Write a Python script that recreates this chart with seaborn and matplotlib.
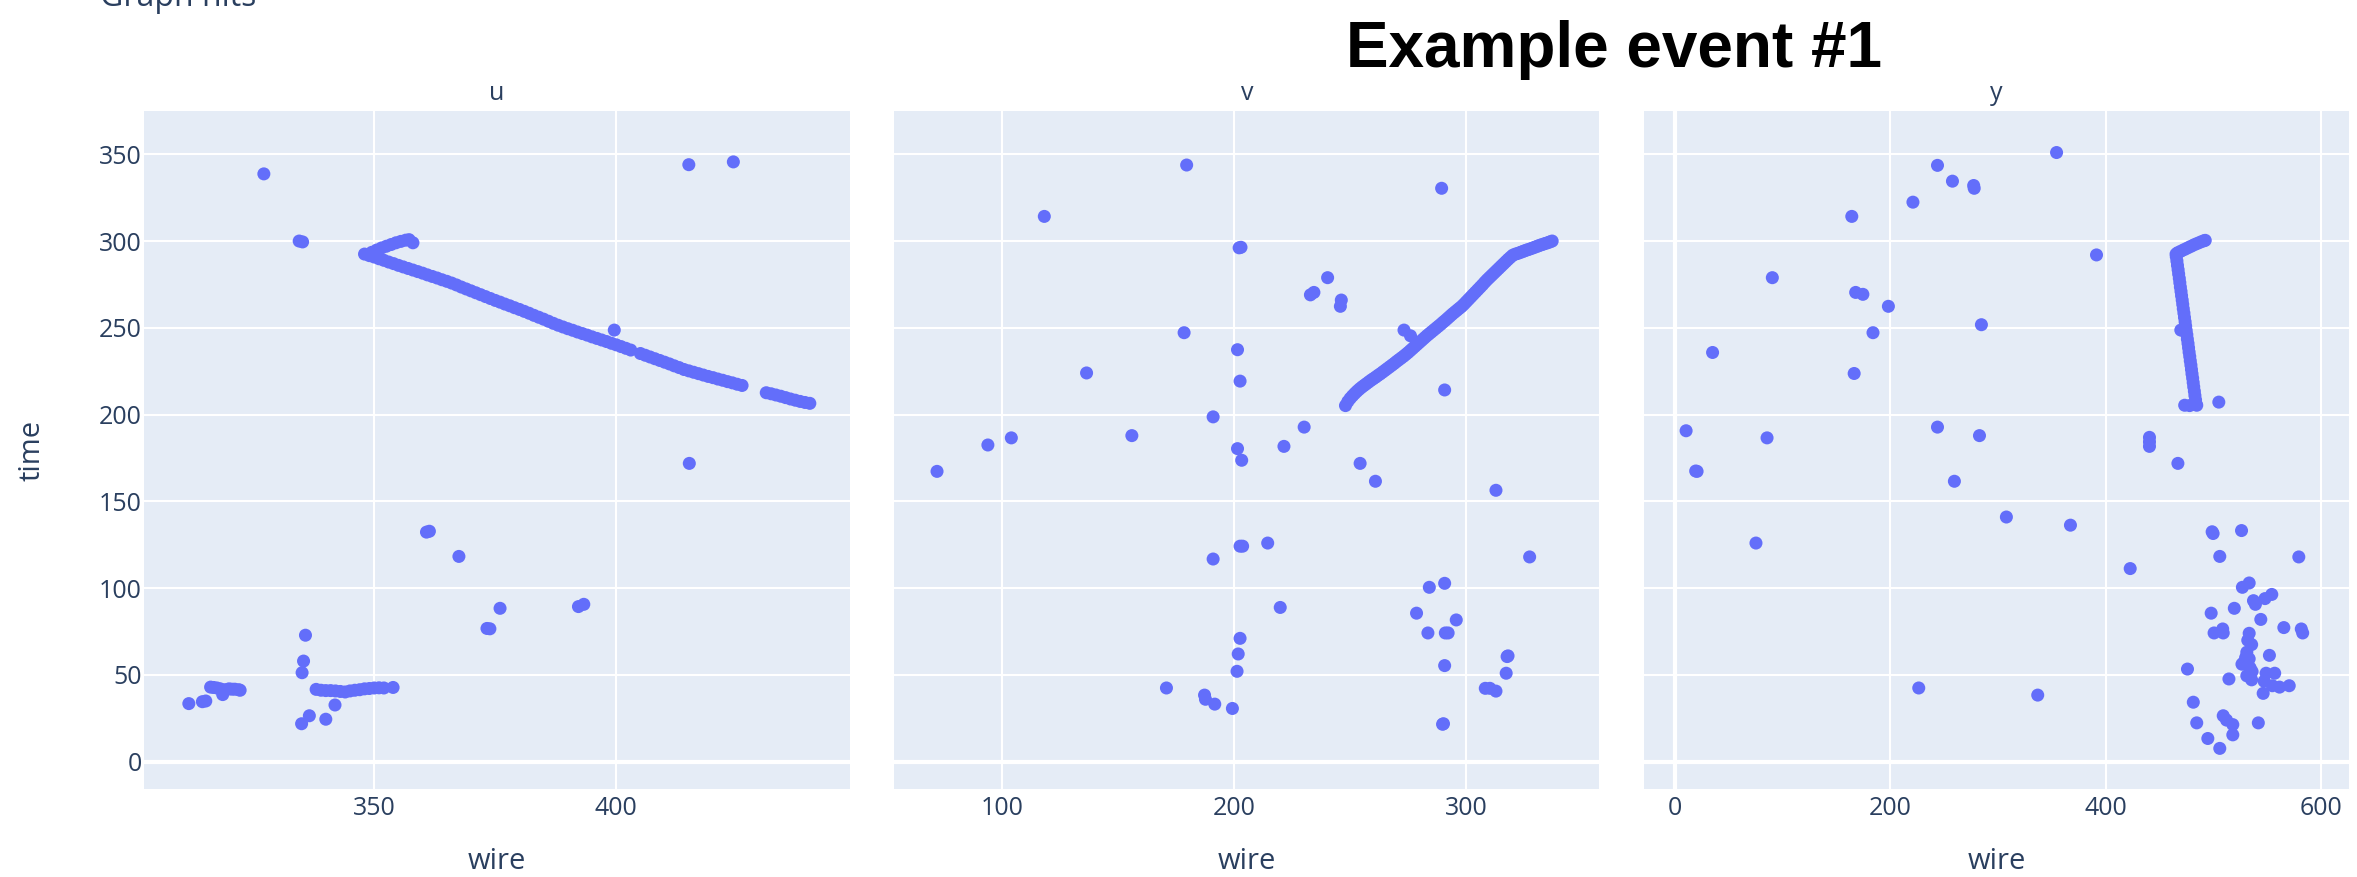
import matplotlib
matplotlib.use("Agg")
import matplotlib.pyplot as plt
import seaborn as sns
import pandas as pd

# ---------------- data ----------------
planes = ["u", "v", "y"]

# plane u: isolated hits
u_hits_wire = [327.2, 334.5, 335.2, 415.0, 424.2, 415.1, 399.6, 360.8, 361.4, 367.5,
               373.3, 373.9, 376.0, 392.2, 393.3, 335.8, 335.4, 335.1, 335.0, 336.6,
               340.0, 341.9, 353.9, 311.7, 314.5, 315.2, 316.2, 316.8, 317.5, 318.2,
               318.7, 319.2, 320.0, 320.6, 321.2, 322.0, 322.3, 338.0, 339.0, 340.0,
               341.0, 342.0, 343.0, 344.0, 345.0, 346.0, 347.0, 348.0, 349.0, 350.0,
               351.0, 352.0]
u_hits_time = [338.7, 300.0, 299.5, 344.0, 345.6, 171.9, 248.7, 132.3, 132.8, 118.3,
               76.8, 76.6, 88.4, 89.4, 90.7, 72.9, 58.0, 51.3, 21.9, 26.5,
               24.5, 32.7, 42.8, 33.5, 34.6, 35.0, 43.0, 42.8, 42.5, 42.0,
               38.7, 41.5, 42.0, 41.8, 41.8, 41.5, 41.2, 41.7, 41.2, 41.0,
               41.0, 40.8, 40.5, 40.2, 40.8, 41.2, 41.5, 42.0, 42.2, 42.5,
               42.6, 42.5]
# plane u: track hits
u_track_wire = [348, 349, 350, 351, 352, 353, 354, 355, 356, 357,
                358, 359, 360, 361, 362, 363, 364, 365, 366, 367,
                368, 369, 370, 371, 372, 373, 374, 375, 376, 377,
                378, 379, 380, 381, 382, 383, 384, 385, 386, 387,
                388, 389, 390, 391, 392, 393, 394, 395, 396, 397,
                398, 399, 400, 401, 402, 403,
                405, 406, 407, 408, 409, 410, 411, 412, 413, 414,
                415, 416, 417, 418, 419, 420, 421, 422, 423, 424, 425, 426,
                431, 432, 433, 434, 435, 436, 437, 438, 439, 440,
                349.5, 350.5, 351.5, 352.5, 353.5, 354.5, 355.5, 356.5, 357.2, 358.0]
u_track_time = [292.5, 291.6, 290.8, 289.8, 288.9, 287.9, 287.0, 286.0, 285.1, 284.2,
                283.3, 282.4, 281.5, 280.5, 279.6, 278.7, 277.7, 276.8, 275.8, 274.7,
                273.5, 272.4, 271.3, 270.2, 269.1, 268.0, 266.9, 265.8, 264.8, 263.7,
                262.7, 261.6, 260.6, 259.5, 258.4, 257.2, 256.1, 255.0, 253.8, 252.6,
                251.5, 250.5, 249.5, 248.6, 247.6, 246.7, 245.8, 244.8, 243.9, 243.0,
                242.1, 241.1, 240.2, 239.2, 238.2, 237.2,
                235.2, 234.2, 233.2, 232.2, 231.2, 230.2, 229.2, 228.1, 227.1, 226.0,
                225.2, 224.4, 223.6, 222.8, 222.0, 221.3, 220.5, 219.8, 219.0, 218.3, 217.5, 216.8,
                212.6, 212.0, 211.3, 210.6, 209.8, 209.0, 208.3, 207.6, 207.0, 206.5,
                293.5, 294.8, 296.0, 297.0, 298.0, 299.0, 299.8, 300.5, 300.8, 299.0]

# plane v: isolated hits
v_hits_wire = [179.6, 118.3, 202.2, 203.0, 289.4, 240.3, 232.9, 234.4, 246.2, 245.8,
               273.2, 276.0, 178.5, 201.5, 202.6, 136.5, 290.7, 191.0, 156.0, 104.1,
               94.0, 72.1, 201.5, 203.3, 221.5, 230.2, 254.3, 260.9, 312.8, 214.5,
               202.6, 203.7, 191.0, 327.3, 284.1, 290.7, 219.9, 278.6, 295.7, 283.5,
               291.0, 292.2, 202.6, 201.8, 201.3, 317.6, 318.0, 317.2, 290.7, 170.9,
               187.3, 187.7, 191.7, 199.3, 308.2, 310.2, 312.8, 289.8, 290.2]
v_hits_time = [343.8, 314.2, 296.1, 296.4, 330.4, 278.9, 269.0, 270.4, 266.0, 262.4,
               248.7, 245.4, 247.2, 237.4, 219.3, 224.0, 214.2, 198.7, 187.9, 186.6,
               182.5, 167.3, 180.4, 173.7, 181.7, 192.8, 171.9, 161.6, 156.4, 126.0,
               124.2, 124.2, 116.8, 118.0, 100.5, 102.8, 88.9, 85.6, 81.7, 74.2,
               74.2, 74.2, 71.1, 62.1, 52.1, 60.6, 61.0, 51.0, 55.4, 42.5,
               38.4, 36.0, 33.2, 30.7, 42.3, 42.3, 40.7, 21.6, 21.9]
# plane v: track hits
v_track_wire = [248, 249, 250, 251, 252, 253, 254, 255, 256, 257,
                258, 259, 260, 261, 262, 263, 264, 265, 266, 267,
                268, 269, 270, 271, 272, 273, 274, 275, 276, 277,
                278, 279, 280, 281, 282, 283, 284, 285, 286, 287,
                288, 289, 290, 291, 292, 293, 294, 295, 296, 297,
                298, 299, 300, 301, 302, 303, 304, 305, 306, 307,
                308, 309, 310, 311, 312, 313, 314, 315, 316, 317,
                318, 319, 320, 321, 322, 323, 324, 325, 326, 327,
                328, 329, 330, 331, 332, 333, 334, 335, 336, 337]
v_track_time = [205.2, 207.5, 209.3, 210.8, 212.2, 213.5, 214.7, 215.8, 216.8, 217.8,
                218.8, 219.8, 220.7, 221.6, 222.6, 223.5, 224.5, 225.5, 226.5, 227.5,
                228.5, 229.5, 230.6, 231.6, 232.6, 233.6, 234.7, 235.8, 237.0, 238.2,
                239.4, 240.6, 241.8, 243.0, 244.2, 245.4, 246.5, 247.6, 248.7, 249.8,
                250.9, 252.0, 253.2, 254.3, 255.5, 256.7, 257.9, 259.0, 260.1, 261.2,
                262.3, 263.6, 265.0, 266.4, 267.8, 269.2, 270.6, 272.0, 273.4, 274.8,
                276.3, 277.7, 279.0, 280.3, 281.6, 282.9, 284.2, 285.5, 286.8, 288.1,
                289.4, 290.6, 291.8, 292.4, 292.8, 293.3, 293.8, 294.3, 294.8, 295.2,
                295.7, 296.2, 296.7, 297.2, 297.7, 298.1, 298.6, 299.0, 299.5, 300.0]

# plane y: isolated hits
y_hits_wire = [354.4, 243.8, 257.7, 277.4, 277.9, 221.0, 164.2, 391.5, 90.4, 167.8,
               174.5, 198.2, 183.9, 284.6, 34.9, 166.4, 505.1, 10.3, 85.5, 243.8,
               282.8, 440.7, 440.7, 440.7, 19.2, 20.5, 467.1, 259.5, 307.8, 367.3,
               75.2, 422.8, 226.4, 336.9, 498.9, 499.8, 526.2, 506.0, 579.4, 476.0,
               481.4, 484.6, 494.9, 506.0, 509.2, 512.3, 518.1, 518.1, 541.8, 514.5,
               498.0, 519.5, 527.0, 533.3, 537.3, 539.1, 548.0, 554.3, 544.1, 500.7,
               508.7, 509.2, 565.5, 581.7, 583.0, 533.3, 535.6, 531.1, 533.3, 526.6,
               534.2, 531.1, 535.6, 552.1, 549.0, 557.0, 547.2, 554.8, 546.3, 561.5,
               570.5, 532.0, 530.0, 536.0, 528.0]
y_hits_time = [351.0, 343.6, 334.5, 332.0, 330.4, 322.4, 314.2, 292.0, 278.9, 270.4,
               269.3, 262.4, 247.2, 251.8, 235.8, 223.7, 207.2, 190.7, 186.6, 192.8,
               187.9, 186.9, 184.3, 181.7, 167.5, 167.3, 171.9, 161.6, 141.0, 136.3,
               126.0, 111.3, 42.5, 38.4, 132.5, 131.5, 133.2, 118.3, 118.0, 53.4,
               34.3, 22.4, 13.4, 7.7, 26.5, 24.0, 21.4, 15.5, 22.4, 47.7,
               85.6, 88.4, 100.5, 103.0, 92.8, 90.7, 94.0, 96.4, 82.0, 74.2,
               76.5, 74.2, 77.3, 76.5, 74.2, 74.0, 67.5, 63.1, 59.3, 56.2,
               54.1, 49.5, 47.2, 61.3, 51.0, 51.0, 46.4, 43.8, 39.4, 43.0,
               43.8, 70.0, 60.0, 52.0, 57.0]
# plane y: track hits
y_track_wire = [473.4, 478.0, 484.6, 484.0, 483.5, 482.9, 482.4, 481.8, 481.3, 480.8,
                480.2, 479.7, 479.2, 478.6, 478.1, 477.5, 477.0, 476.5, 475.9, 475.4,
                474.8, 469.8, 474.3, 473.8, 473.2, 472.7, 472.1, 471.6, 471.1, 470.5,
                470.0, 469.4, 468.9, 468.4, 467.8, 467.3, 466.7, 466.2, 465.6, 465.4,
                467.0, 470.0, 473.0, 476.0, 479.0, 482.0, 485.0, 488.0, 491.0, 492.5]
y_track_time = [205.4, 205.2, 205.4, 206.0, 208.5, 211.0, 213.5, 216.0, 218.5, 221.0,
                223.5, 226.0, 228.5, 231.0, 233.5, 236.0, 238.5, 241.0, 243.5, 246.0,
                248.5, 248.7, 251.0, 253.5, 256.0, 258.5, 261.0, 263.5, 266.0, 268.5,
                271.0, 273.5, 276.0, 278.5, 281.0, 283.5, 286.0, 288.5, 291.0, 292.5,
                293.3, 294.2, 295.1, 296.0, 296.9, 297.8, 298.6, 299.4, 300.1, 300.4]

x_ticks = {"u": [350, 400], "v": [100, 200, 300], "y": [0, 200, 400, 600]}
y_ticks = [0, 50, 100, 150, 200, 250, 300, 350]

# ---------------- build long-form table ----------------
frames = []
for p, (hw, ht, tw, tt) in zip(planes, [
        (u_hits_wire, u_hits_time, u_track_wire, u_track_time),
        (v_hits_wire, v_hits_time, v_track_wire, v_track_time),
        (y_hits_wire, y_hits_time, y_track_wire, y_track_time)]):
    frames.append(pd.DataFrame({"plane": p, "wire": hw, "time": ht}))
    frames.append(pd.DataFrame({"plane": p, "wire": tw, "time": tt}))
df = pd.concat(frames, ignore_index=True)

# ---------------- styling ----------------
sns.set_theme(style="darkgrid")
plt.rcParams["font.family"] = ["Open Sans", "DejaVu Sans"]

BG = "#E5ECF6"
MARK = "#636EFA"
TXT = "#2a3f5f"

W, H = 2357, 877
fig = plt.figure(figsize=(W / 100, H / 100), dpi=100)
fig.patch.set_facecolor("white")

panel_px = {"u": (144.3, 850.0), "v": (894.3, 1599.3), "y": (1644.0, 2349.3)}
top_px, bot_px = 110.7, 789.0
xlims = {"u": (302.5, 448.3), "v": (53.7, 357.3), "y": (-28.8, 626.3)}
ylim = (-15.7, 375.1)

for i, p in enumerate(planes):
    x0, x1 = panel_px[p]
    ax = fig.add_axes([x0 / W, 1 - bot_px / H, (x1 - x0) / W, (bot_px - top_px) / H])
    ax.set_facecolor(BG)
    ax.set_axisbelow(True)
    for s in ax.spines.values():
        s.set_visible(False)
    ax.grid(True, color="white", linewidth=1.5)
    ax.axhline(0, color="white", linewidth=3.0, zorder=1)
    if p == "y":
        ax.axvline(0, color="white", linewidth=3.0, zorder=1)
    sns.scatterplot(data=df[df["plane"] == p], x="wire", y="time", ax=ax,
                    color=MARK, s=88, linewidth=0, edgecolor="none", zorder=3,
                    legend=False)
    ax.set_xlim(*xlims[p])
    ax.set_ylim(*ylim)
    ax.set_xticks(x_ticks[p])
    ax.set_yticks(y_ticks)
    ax.tick_params(axis="both", length=0, labelsize=18, labelcolor=TXT)
    ax.tick_params(axis="x", pad=5)
    ax.tick_params(axis="y", pad=2)
    if i > 0:
        ax.set_yticklabels([])
    ax.set_xlabel("")
    ax.set_ylabel("")
    cx = (x0 + x1) / 2 / W
    fig.text(cx, 1 - 100 / H, p, ha="center", va="baseline", fontsize=18, color=TXT)
    fig.text(cx, 1 - 869 / H, "wire", ha="center", va="baseline", fontsize=21, color=TXT)

fig.text(32 / W, 1 - 450 / H, "time", rotation=90, ha="center", va="center",
         fontsize=21, color=TXT)
fig.text(100 / W, 1 - 6 / H, "Graph hits", ha="left", va="baseline",
         fontsize=23, color=TXT)
fig.text(1346 / W, 1 - 67 / H, "Example event #1", ha="left", va="baseline",
         fontsize=46, fontweight="bold", color="black",
         family=["Liberation Sans", "DejaVu Sans"])

fig.savefig("out.png", dpi=100, facecolor="white")
